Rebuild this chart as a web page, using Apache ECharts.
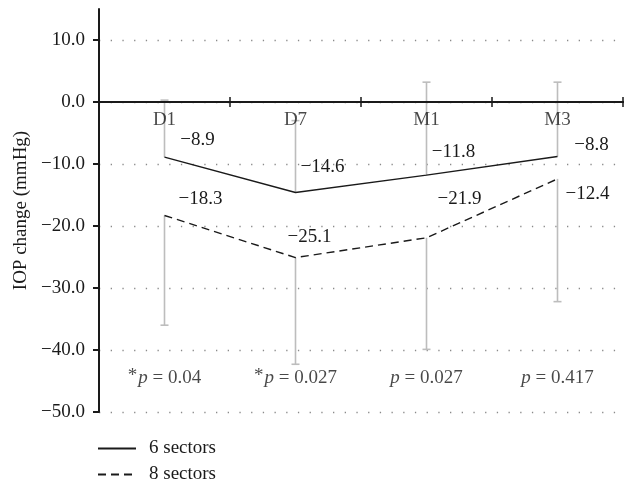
<!DOCTYPE html>
<html>
<head>
<meta charset="utf-8">
<script src="https://cdn.jsdelivr.net/npm/echarts@6/dist/echarts.min.js"></script>
<style>
  html, body { margin: 0; padding: 0; background: #fff; }
  #main { width: 624px; height: 483px; }
</style>
</head>
<body>
<div id="main"></div>
<script>
// 数据
const categories = ['D1', 'D7', 'M1', 'M3']
const sixSectors = [-8.9, -14.6, -11.8, -8.8]
const eightSectors = [-18.3, -25.1, -21.9, -12.4]
// error bar ends (6 sectors upward, 8 sectors downward)
const sixSectorsSD = [9.2, 11.6, 15.0, 12.0]
const eightSectorsSD = [17.7, 17.2, 18.0, 19.8]
const yTicks = [-50, -40, -30, -20, -10, 0, 10]
const pValues = ['0.04', '0.027', '0.027', '0.417']
const pStar = [true, true, false, false]
const pRow = -44.5

// label placement (pixels, relative to each point)
const offsetSix = [[33, -17], [27, -26], [27, -23], [34, -12]]
const offsetEight = [[36, -16], [14, -21], [33, -39], [30, 15]]

const FONT = '"Liberation Serif", "DejaVu Serif", serif'
const FS = 19
const INK = '#1a1a1a'
const minus = (v) => v.toFixed(1).replace('-', '\u2212')

const chart = echarts.init(document.getElementById('main'))

const withLabels = (vals, offs) => vals.map((v, i) => ({
  value: v,
  label: { offset: offs[i] }
}))

const errorData = []
sixSectors.forEach((v, i) => errorData.push([i, v, v + sixSectorsSD[i]]))
eightSectors.forEach((v, i) => errorData.push([i, v, v - eightSectorsSD[i]]))

const lineLabel = {
  show: true,
  position: 'inside',
  align: 'center',
  verticalAlign: 'middle',
  color: INK,
  fontFamily: FONT,
  fontSize: FS,
  formatter: (p) => minus(p.value)
}

const tickStyle = { color: INK, width: 1.5 }

// one legend box per row, stacked
const legendRow = (name, top) => ({
  orient: 'vertical',
  left: 97,
  top: top,
  padding: 0,
  itemWidth: 38,
  itemHeight: 14,
  itemStyle: { opacity: 0 },
  textStyle: { fontFamily: FONT, fontSize: FS, color: INK, padding: [0, 0, 0, 8] },
  data: [name]
})

const option = {
  animation: false,
  textStyle: { fontFamily: FONT },
  grid: { left: 99, right: 1, top: 9, bottom: 71 },
  legend: [legendRow('6 sectors', 439), legendRow('8 sectors', 465)],
  xAxis: [
    {
      type: 'category',
      data: categories,
      position: 'bottom',
      axisLine: { onZero: true, onZeroAxisIndex: 0, lineStyle: { color: INK, width: 2 } },
      axisTick: { show: true, length: 5, lineStyle: tickStyle },
      axisLabel: { show: false },
      splitLine: { show: false },
      z: 3
    },
    {
      type: 'category',
      data: categories,
      position: 'top',
      axisLine: { onZero: true, onZeroAxisIndex: 0, lineStyle: { color: INK, width: 2 } },
      axisTick: { show: true, length: 5, lineStyle: tickStyle },
      axisLabel: { show: false },
      splitLine: { show: false }
    }
  ],
  yAxis: {
    type: 'value',
    min: -50,
    max: 15,
    name: 'IOP change (mmHg)',
    nameLocation: 'middle',
    nameGap: 66,
    nameTextStyle: { fontFamily: FONT, fontSize: FS, color: INK },
    axisLine: { show: true, lineStyle: { color: INK, width: 2 } },
    axisTick: { show: true, length: 6, customValues: yTicks, lineStyle: { color: INK, width: 2 } },
    axisLabel: {
      customValues: yTicks,
      margin: 14,
      color: INK,
      fontFamily: FONT,
      fontSize: FS,
      formatter: (v) => minus(v)
    },
    splitLine: {
      show: true,
      lineStyle: { color: '#8a8a8a', width: 1.3, type: [1.3, 10.4] }
    }
  },
  series: [
    {
      name: 'error',
      type: 'custom',
      z: 1,
      data: errorData,
      encode: { x: 0, y: [1, 2] },
      renderItem: (params, api) => {
        const i = api.value(0)
        const a = api.coord([i, api.value(1)])
        const b = api.coord([i, api.value(2)])
        const style = { stroke: '#bdbdbd', lineWidth: 1.6 }
        return {
          type: 'group',
          children: [
            { type: 'line', shape: { x1: a[0], y1: a[1], x2: b[0], y2: b[1] }, style },
            { type: 'line', shape: { x1: b[0] - 4, y1: b[1], x2: b[0] + 4, y2: b[1] }, style }
          ]
        }
      }
    },
    {
      name: '6 sectors',
      type: 'line',
      z: 2,
      symbol: 'circle',
      symbolSize: 0,
      showSymbol: true,
      data: withLabels(sixSectors, offsetSix),
      lineStyle: { color: INK, width: 1.4, type: 'solid' },
      itemStyle: { color: INK },
      label: lineLabel
    },
    {
      name: '8 sectors',
      type: 'line',
      z: 2,
      symbol: 'circle',
      symbolSize: 0,
      showSymbol: true,
      data: withLabels(eightSectors, offsetEight),
      lineStyle: { color: INK, width: 1.4, type: [8, 5] },
      itemStyle: { color: INK },
      label: lineLabel
    },
    {
      // category names sit just under the zero line
      name: 'cat',
      type: 'scatter',
      symbolSize: 0,
      silent: true,
      z: 3,
      data: categories.map((c, i) => [i, 0]),
      label: {
        show: true,
        position: 'bottom',
        distance: 9,
        color: INK,
        fontFamily: FONT,
        fontSize: FS,
        formatter: (p) => categories[p.dataIndex]
      }
    },
    {
      name: 'p',
      type: 'scatter',
      symbolSize: 0,
      silent: true,
      data: pValues.map((p, i) => [i, pRow]),
      label: {
        show: true,
        position: 'inside',
        formatter: (p) => {
          const i = p.dataIndex
          return (pStar[i] ? '{s|*}' : '') + '{i|p}{n| = ' + pValues[i] + '}'
        },
        rich: {
          s: { fontFamily: FONT, fontSize: FS, color: INK, verticalAlign: 'top', padding: [0, 1, 4, 0] },
          i: { fontFamily: FONT, fontSize: FS, fontStyle: 'italic', color: INK },
          n: { fontFamily: FONT, fontSize: FS, color: INK }
        }
      }
    }
  ]
}

chart.setOption(option)
</script>
</body>
</html>
